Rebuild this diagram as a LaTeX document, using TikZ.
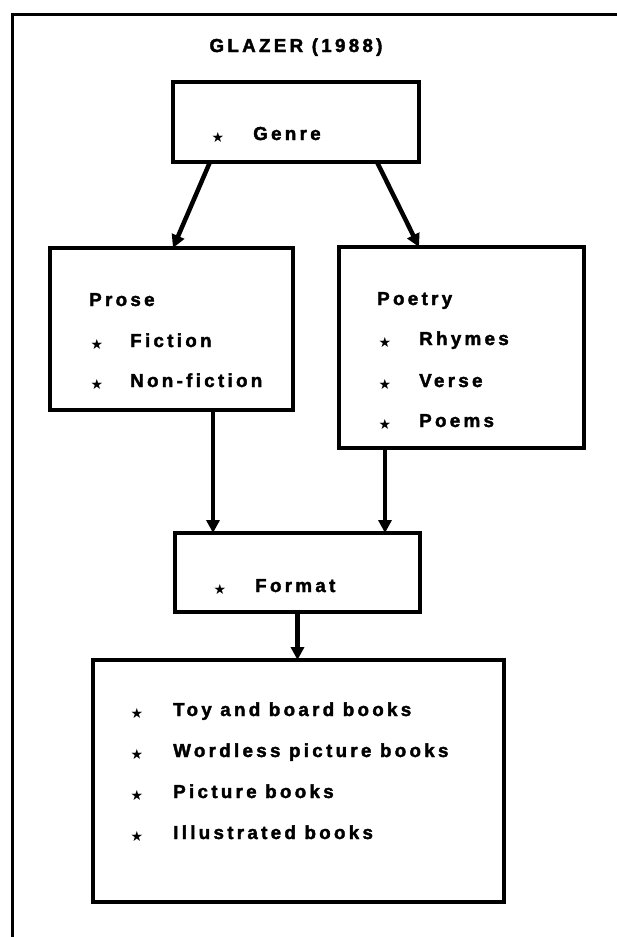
\documentclass[tikz,border=0pt]{standalone}
\usepackage{fontspec}
\usetikzlibrary{arrows.meta}
\newfontfamily\labelfont{Liberation Sans}[LetterSpace=17.5, FakeBold=2]
\newfontfamily\symfont{DejaVu Sans}

\tikzset{
  frameline/.style={line width=3pt},
  box/.style={draw, line width=3.5pt, inner sep=0pt, outer sep=0pt},
  link/.style={line width=4.5pt, -{Triangle[width=13pt,length=13pt]}},
  txt/.style={font=\labelfont\bfseries\fontsize{18.8}{21}\selectfont, anchor=base west, inner sep=0pt},
  bullet/.style={font=\symfont\fontsize{14}{14}\selectfont, inner sep=0pt, anchor=center}
}

% one bulleted line: name, star x, text x, baseline y, text
\newcommand\entry[5]{%
  \node[bullet] (#1s) at (#2,#4-3) {★};
  \node[txt] (#1) at (#3,#4) {#5};
}

\begin{document}
\begin{tikzpicture}[x=1pt,y=-1pt]
  \useasboundingbox (0,0) rectangle (617,937);

  % open frame: top and left edges only
  \draw[frameline] (617,14) -- (12,14) -- (12,937);

  \node[txt, anchor=base] (title) at (296,52) {GLAZER (1988)};

  % boxes
  \node[box, minimum width=246pt, minimum height=80pt]  (genre)  at (296,122) {};
  \node[box, minimum width=243pt, minimum height=162pt] (prose)  at (171.5,329) {};
  \node[box, minimum width=245pt, minimum height=201pt] (poetry) at (461.5,347.5) {};
  \node[box, minimum width=245pt, minimum height=79pt]  (format) at (297.5,572.5) {};
  \node[box, minimum width=411pt, minimum height=242pt] (books)  at (298.5,781) {};

  % box contents
  \entry{genretxt}{218}{253}{140}{Genre}

  \node[txt] (prosetxt) at (89,306) {Prose};
  \entry{fiction}{97}{130}{347}{Fiction}
  \entry{nonfiction}{97}{130}{387}{Non-fiction}

  \node[txt] (poetrytxt) at (377,305) {Poetry};
  \entry{rhymes}{385}{419}{345}{Rhymes}
  \entry{verse}{385}{419}{387}{Verse}
  \entry{poems}{385}{419}{427}{Poems}

  \entry{formattxt}{220}{255}{592}{Format}

  \entry{toy}{137}{173}{716}{Toy and board books}
  \entry{wordless}{137}{173}{757}{Wordless picture books}
  \entry{picture}{137}{173}{798}{Picture books}
  \entry{illustrated}{137}{173}{839}{Illustrated books}

  % connectors
  \draw[link] ([xshift=-86pt]genre.south) -- ([xshift=1.5pt]prose.north);
  \draw[link] ([xshift=81pt]genre.south) -- ([xshift=-42.5pt]poetry.north);
  \draw[link] ([xshift=41.5pt]prose.south) -- ([xshift=-84.5pt]format.north);
  \draw[link] ([xshift=-76.5pt]poetry.south) -- ([xshift=87.5pt]format.north);
  \draw[link] (format.south) -- (format.south |- books.north);
\end{tikzpicture}
\end{document}
